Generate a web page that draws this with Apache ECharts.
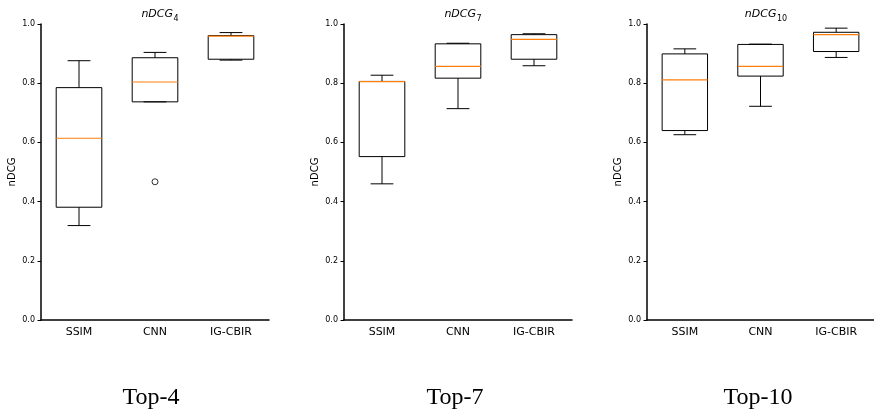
<!DOCTYPE html>
<html>
<head>
<meta charset="utf-8">
<script src="https://cdn.jsdelivr.net/npm/echarts@6/dist/echarts.min.js"></script>
<style>
  html, body { margin: 0; padding: 0; background: #fff; }
  #chart { width: 874px; height: 413px; }
</style>
</head>
<body>
<div id="chart"></div>
<script>
// categories and box stats [min, q1, median, q3, max]
var categories = ["SSIM", "CNN", "IG-CBIR"];
var top4Stats = [
  [0.319, 0.381, 0.614, 0.785, 0.876],
  [0.737, 0.737, 0.804, 0.886, 0.904],
  [0.878, 0.881, 0.959, 0.961, 0.971]
];
var top7Stats = [
  [0.460, 0.552, 0.805, 0.806, 0.827],
  [0.714, 0.817, 0.857, 0.933, 0.935],
  [0.859, 0.881, 0.948, 0.964, 0.967]
];
var top10Stats = [
  [0.626, 0.640, 0.811, 0.899, 0.916],
  [0.722, 0.824, 0.857, 0.931, 0.932],
  [0.887, 0.907, 0.964, 0.972, 0.986]
];
// outliers: [category index, value]
var top4Outliers = [[1, 0.467]];
var top7Outliers = [];
var top10Outliers = [];
var subscripts = ["4", "7", "10"];
var captions = ["Top-4", "Top-7", "Top-10"];

var panels = [
  { stats: top4Stats, outliers: top4Outliers },
  { stats: top7Stats, outliers: top7Outliers },
  { stats: top10Stats, outliers: top10Outliers }
];

var gridLeft = [41, 344, 647];
var gridTop = 24;
var gridW = 228;
var gridH = 296;

var myChart = echarts.init(document.getElementById("chart"), null, { renderer: "canvas" });

function renderBox(params, api) {
  var idx = api.value(0);
  var lo = api.coord([idx, api.value(1)]);
  var q1 = api.coord([idx, api.value(2)]);
  var med = api.coord([idx, api.value(3)]);
  var q3 = api.coord([idx, api.value(4)]);
  var hi = api.coord([idx, api.value(5)]);
  var bw = api.size([1, 0])[0] * 0.6;
  var cw = bw / 2;
  var x = lo[0];
  var black = { stroke: "#000", lineWidth: 1, fill: null };
  return {
    type: "group",
    children: [
      { type: "line", shape: { x1: x, y1: q1[1], x2: x, y2: lo[1] }, style: black },
      { type: "line", shape: { x1: x, y1: q3[1], x2: x, y2: hi[1] }, style: black },
      { type: "line", shape: { x1: x - cw / 2, y1: lo[1], x2: x + cw / 2, y2: lo[1] }, style: black },
      { type: "line", shape: { x1: x - cw / 2, y1: hi[1], x2: x + cw / 2, y2: hi[1] }, style: black },
      { type: "rect", shape: { x: x - bw / 2, y: q3[1], width: bw, height: q1[1] - q3[1] }, style: black },
      { type: "line", shape: { x1: x - bw / 2, y1: med[1], x2: x + bw / 2, y2: med[1] }, style: { stroke: "#ff7f0e", lineWidth: 1.2 } }
    ]
  };
}

var grids = [], xAxes = [], yAxes = [], series = [], titles = [], graphics = [];
panels.forEach(function (p, i) {
  grids.push({ left: gridLeft[i], top: gridTop, width: gridW, height: gridH });
  xAxes.push({
    type: "category",
    gridIndex: i,
    data: categories,
    boundaryGap: true,
    axisLine: { lineStyle: { color: "#000", width: 1.5 } },
    axisTick: { alignWithLabel: true, length: 3.5, lineStyle: { color: "#000" } },
    axisLabel: { color: "#000", fontSize: 11, fontFamily: "DejaVu Sans", margin: 7, interval: 0 }
  });
  yAxes.push({
    type: "value",
    gridIndex: i,
    min: 0,
    max: 1,
    interval: 0.2,
    name: "nDCG",
    nameLocation: "middle",
    nameGap: 24,
    nameTextStyle: { color: "#000", fontSize: 10, fontFamily: "DejaVu Sans" },
    axisLine: { show: true, lineStyle: { color: "#000", width: 1.5 } },
    axisTick: { show: true, length: 3.5, lineStyle: { color: "#000" } },
    splitLine: { show: false },
    axisLabel: {
      color: "#000", fontSize: 8, fontFamily: "DejaVu Sans", margin: 6,
      formatter: function (v) { return v.toFixed(1); }
    }
  });
  series.push({
    type: "custom",
    xAxisIndex: i,
    yAxisIndex: i,
    renderItem: renderBox,
    encode: { x: 0, y: [1, 2, 3, 4, 5] },
    data: p.stats.map(function (s, k) { return [k].concat(s); }),
    silent: true
  });
  series.push({
    type: "scatter",
    xAxisIndex: i,
    yAxisIndex: i,
    symbol: "circle",
    symbolSize: 6,
    itemStyle: { color: "#fff", borderColor: "#000", borderWidth: 1 },
    data: p.outliers,
    silent: true
  });
  var cx = gridLeft[i] + gridW / 2;
  titles.push({
    text: "{i|nDCG}{s|" + subscripts[i] + "}",
    left: cx,
    top: 1,
    textAlign: "center",
    textStyle: {
      fontWeight: "normal",
      rich: {
        i: { fontStyle: "italic", fontWeight: "normal", fontSize: 11, fontFamily: "DejaVu Sans", color: "#000", lineHeight: 17, verticalAlign: "middle" },
        s: { fontSize: 8, fontWeight: "normal", fontFamily: "DejaVu Sans", color: "#000", lineHeight: 17, verticalAlign: "bottom", padding: [0, 0, 0, 0.5] }
      }
    }
  });
  graphics.push({
    type: "text",
    x: [151, 455, 758][i],
    y: 398,
    style: {
      text: captions[i],
      font: "24px 'Liberation Serif'",
      fill: "#000",
      textAlign: "center",
      textVerticalAlign: "middle"
    }
  });
});

var option = {
  animation: false,
  backgroundColor: "#fff",
  title: titles,
  grid: grids,
  xAxis: xAxes,
  yAxis: yAxes,
  series: series,
  graphic: graphics
};
myChart.setOption(option);
</script>
</body>
</html>
